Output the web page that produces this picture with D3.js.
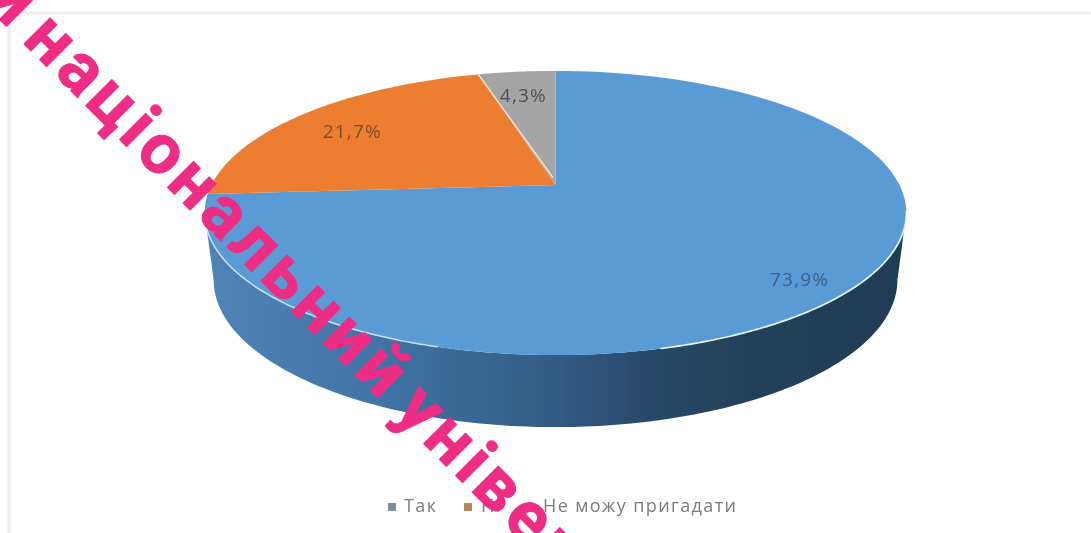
<!DOCTYPE html>
<html><head><meta charset="utf-8">
<script src="https://cdn.jsdelivr.net/npm/d3@7"></script>
<style>html,body{margin:0;padding:0;background:#fff;overflow:hidden}svg{display:block}</style>
</head><body><svg id="c" width="1091" height="533"></svg>
<script>
const categories = ["Так", "Ні", "Не можу пригадати"];
const values = [73.9, 21.7, 4.3];
const labels = ["73,9%", "21,7%", "4,3%"];
const colors = ["#5b9bd5", "#ed7d31", "#a5a5a5"];
const legendColors = ["#7e8d9d", "#b5835a", "#8c8c8c"];
const watermark = "и національний університет";

const svg = d3.select("#c");
const defs = svg.append("defs");
defs.append("filter").attr("id","soft").append("feGaussianBlur").attr("stdDeviation",0.6);
defs.append("filter").attr("id","soft2").append("feGaussianBlur").attr("stdDeviation",0.9);

// perspective mapping of the unit disc onto the screen
const cx = 555.5, cy = 185, k = 0.197, sx = 344, sy = 136.6;
const project = (theta, f=1) => {
  const x = f*Math.sin(theta), y = -f*Math.cos(theta), w = 1 - k*y;
  return [cx + sx*x/w, cy + sy*y/w];
};
// lower rim: an offset, slightly narrower copy of the top rim
const lower = ([X,Y]) => [556 + (X-556)*342/351, 280 + (Y-213)*147/142];

const pie = d3.pie().sort(null).value(d=>d);
const arcs = pie(values);
const line = d3.line();
const samples = (a0,a1,n=120) => d3.range(n+1).map(i=>a0+(a1-a0)*i/n);

// frame
const frame = svg.append("g").attr("filter","url(#soft2)").attr("stroke","#e2e2e2").attr("stroke-width",2.2).attr("fill","none");
frame.append("line").attr("x1",9).attr("y1",13).attr("x2",1091).attr("y2",13);
frame.append("line").attr("x1",9).attr("y1",13).attr("x2",9).attr("y2",533);

// side wall
const grad = defs.append("linearGradient").attr("id","wall").attr("gradientUnits","userSpaceOnUse")
  .attr("x1",205).attr("x2",907).attr("y1",0).attr("y2",0);
[[0,"#5184b7"],[0.25,"#3f74a5"],[0.5,"#335b84"],[0.62,"#294a6c"],[0.8,"#234058"],[1,"#1f3b55"]]
  .forEach(([o,c])=>grad.append("stop").attr("offset",o).attr("stop-color",c));
const front = samples(Math.PI*0.563, Math.PI*1.437).map(t=>project(t));
const wallPts = front.concat(front.slice().reverse().map(lower));
const wallD = line(wallPts)+"Z";
svg.append("path").attr("d",wallD).attr("fill","url(#wall)").attr("filter","url(#soft)");

// top slices
const sliceD = d=>line([[cx,cy]].concat(samples(d.startAngle,d.endAngle).map(t=>project(t))))+"Z";
svg.append("g").selectAll("path").data(arcs).join("path")
  .attr("d",sliceD)
  .attr("fill",(d,i)=>colors[i]);

// highlights
const hl = svg.append("g").attr("fill","none").attr("stroke-linecap","round");
hl.append("path").attr("d",line(samples(Math.PI*0.56,Math.PI*0.92).map(t=>project(t))))
  .attr("stroke","#eaf3fa").attr("stroke-width",1.7);
hl.append("path").attr("d",line(samples(Math.PI*1.09,Math.PI*1.44).map(t=>project(t))))
  .attr("stroke","#cfe1f1").attr("stroke-width",1.5);
hl.append("path").attr("d",line([[cx-3,cy-8],project(arcs[2].startAngle)]))
  .attr("stroke","#f6e3d3").attr("stroke-width",1.4);

// labels
const labelR = [0.86,0.79,0.8];
svg.append("g").attr("filter","url(#soft)").selectAll("text").data(arcs).join("text")
  .attr("transform",(d,i)=>{const p=project((d.startAngle+d.endAngle)/2,labelR[i]);return `translate(${p[0]},${p[1]})`;})
  .attr("text-anchor","middle").attr("dy","0.55em")
  .attr("font-family","'Open Sans'").attr("font-size",19).attr("letter-spacing",1.2)
  .attr("fill",(d,i)=>["#3c5f85","#7a4f28","#4f4f4f"][i])
  .text((d,i)=>labels[i]);

// legend
const legendX = d3.scaleOrdinal().domain(categories).range([388,464,526]);
const lg = svg.append("g").attr("filter","url(#soft)").selectAll("g").data(categories).join("g")
  .attr("transform",d=>`translate(${legendX(d)},503)`);
lg.append("rect").attr("width",8).attr("height",8).attr("fill",(d,i)=>legendColors[i]);
lg.append("text").attr("x",(d,i)=>[16,17,17][i]).attr("y",9)
  .attr("font-family","'Open Sans'").attr("font-size",18).attr("letter-spacing",1.4)
  .attr("fill","#7b7b7b").text(d=>d);

// watermark, slightly deeper where it crosses the pie
const clip = defs.append("clipPath").attr("id","pieClip");
clip.append("path").attr("d",wallD);
arcs.forEach(d=>clip.append("path").attr("d",sliceD(d)));
const wm = (fill,cp)=>svg.append("text").attr("transform","translate(-19,1) rotate(45)")
  .attr("font-family","Roboto").attr("font-weight",700).attr("font-size",70)
  .attr("letter-spacing",5).attr("word-spacing",-10)
  .attr("stroke",fill).attr("stroke-width",1).attr("stroke-linejoin","round")
  .attr("clip-path",cp).attr("fill",fill).text(watermark);
wm("#ee2d85",null);
wm("#d81c78","url(#pieClip)");
</script></body></html>
